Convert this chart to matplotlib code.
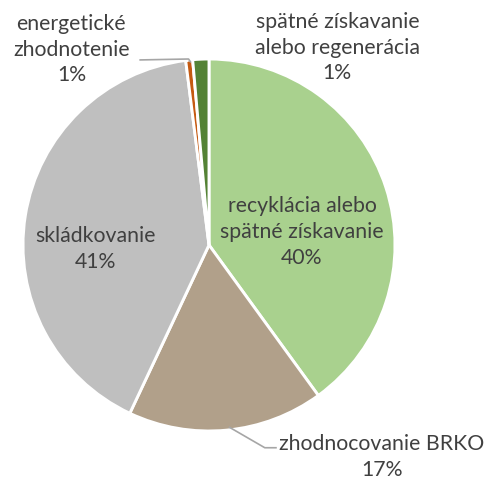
import matplotlib.pyplot as plt

# share of each treatment route, clockwise from 12 o'clock
categories = ["recyklácia alebo\nspätné získavanie", "zhodnocovanie BRKO", "skládkovanie",
              "energetické\nzhodnotenie", "spätné získavanie\nalebo regenerácia"]
shares = [40.0, 17.0, 41.0, 0.6, 1.4]
pct_labels = ["40%", "17%", "41%", "1%", "1%"]
colors = ["#A9D18E", "#B1A08A", "#BFBFBF", "#C55A11", "#548235"]

plt.rcParams['font.family'] = ['Lato', 'DejaVu Sans']
txt = "#404040"

fig = plt.figure(figsize=(4.87, 4.79), dpi=100)
# pie centre ~(209,245) px, radius ~186 px
ax = fig.add_axes([23 / 487, 48 / 479, 372 / 487, 372 / 479])
ax.pie(shares, colors=colors, startangle=90, counterclock=False, radius=1,
       wedgeprops=dict(edgecolor="white", linewidth=2.1))
ax.set_xlim(-1, 1)
ax.set_ylim(-1, 1)
ax.set_aspect("equal")
ax.axis("off")

fs = 15.3
ls = 1.35
labels = [c + "\n" + p for c, p in zip(categories, pct_labels)]
ax.text(0.50, 0.07, labels[0], ha="center", va="center", fontsize=fs, color=txt, linespacing=ls)
ax.text(-0.61, -0.02, labels[2], ha="center", va="center", fontsize=fs, color=txt, linespacing=ls)
ax.text(0.93, -1.14, labels[1], ha="center", va="center", fontsize=fs, color=txt,
        linespacing=ls, clip_on=False)
ax.text(-0.74, 1.05, labels[3], ha="center", va="center", fontsize=fs, color=txt,
        linespacing=ls, clip_on=False)
ax.text(0.69, 1.06, labels[4], ha="center", va="center", fontsize=fs, color=txt,
        linespacing=ls, clip_on=False)

# leader lines
lc = "#A6A6A6"
ax.plot([0.11, 0.30, 0.36], [-0.98, -1.09, -1.09], color=lc, lw=1.2, clip_on=False)
ax.plot([-0.37, -0.11, -0.10], [0.995, 1.0, 0.985], color=lc, lw=1.2, clip_on=False)

fig.savefig("out.png", dpi=100)
